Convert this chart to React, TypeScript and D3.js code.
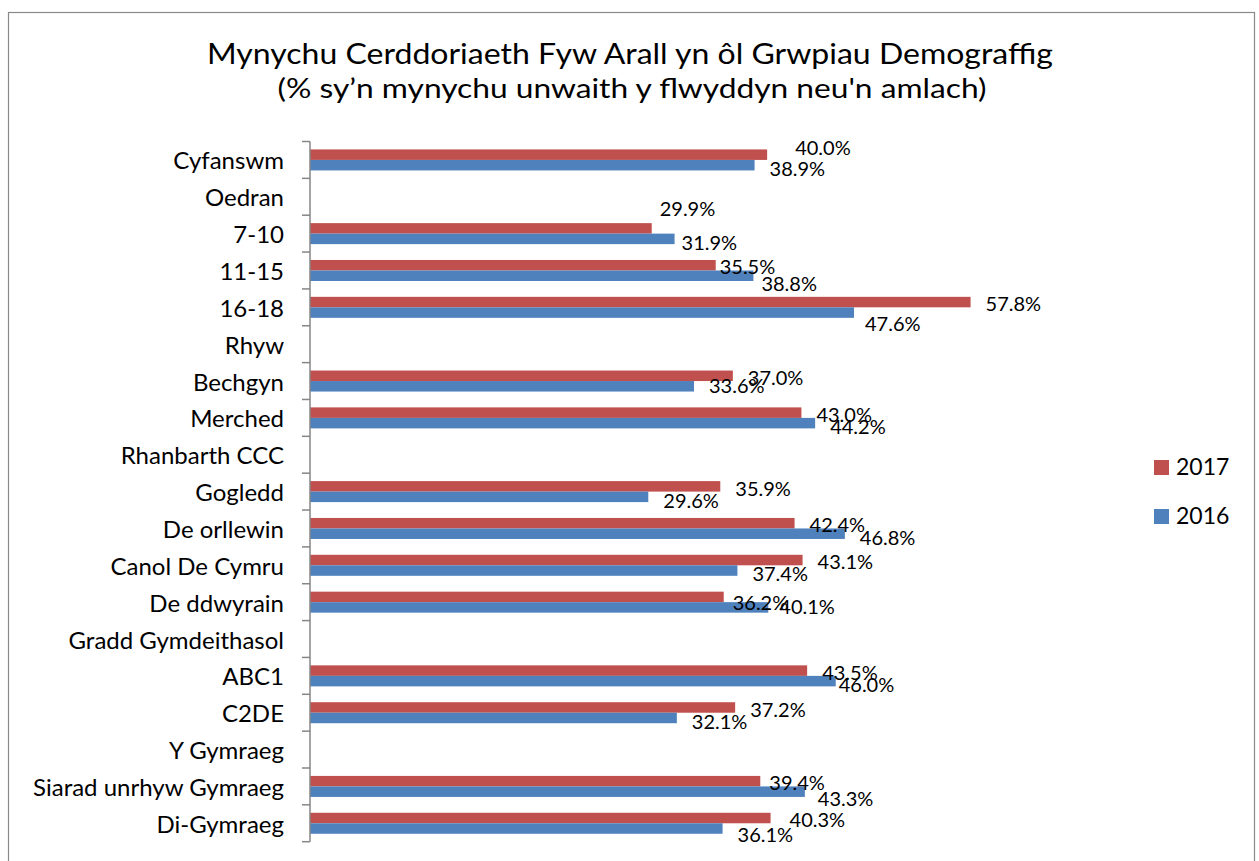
import React from "react";
import * as d3 from "d3";

const categories = [
  "Cyfanswm", "Oedran", "7-10", "11-15", "16-18", "Rhyw", "Bechgyn", "Merched",
  "Rhanbarth CCC", "Gogledd", "De orllewin", "Canol De Cymru", "De ddwyrain",
  "Gradd Gymdeithasol", "ABC1", "C2DE", "Y Gymraeg", "Siarad unrhyw Gymraeg", "Di-Gymraeg",
];
const values2017: (number | null)[] = [
  40.0, null, 29.9, 35.5, 57.8, null, 37.0, 43.0, null, 35.9, 42.4, 43.1, 36.2, null, 43.5, 37.2, null, 39.4, 40.3,
];
const values2016: (number | null)[] = [
  38.9, null, 31.9, 38.8, 47.6, null, 33.6, 44.2, null, 29.6, 46.8, 37.4, 40.1, null, 46.0, 32.1, null, 43.3, 36.1,
];
const seriesNames = ["2017", "2016"];
const title = "Mynychu Cerddoriaeth Fyw Arall yn ôl Grwpiau Demograffig";
const subtitle = "(% sy\u2019n mynychu unwaith y flwyddyn neu'n amlach)";

// label layout nudges (dx, dy) relative to default placement
const nudge2017: Record<string, [number, number]> = {
  "Cyfanswm": [13, -9],
  "7-10": [-7, -22],
  "11-15": [-11, 0],
  "De ddwyrain": [-6, 4],
  "Siarad unrhyw Gymraeg": [-6, 0],
  "Di-Gymraeg": [4, 0],
};
const nudge2016: Record<string, [number, number]> = {
  "7-10": [-8, 0],
  "11-15": [-7, 5],
  "16-18": [-4, 8],
  "Bechgyn": [0, -4],
  "De orllewin": [0, 1],
  "De ddwyrain": [-4, -4],
  "ABC1": [-12, 0],
  "Siarad unrhyw Gymraeg": [-2, 4],
  "Di-Gymraeg": [0, 3],
};

const W = 1259;
const H = 861;
const RED = "#C0504D";
const BLUE = "#4F81BD";
const FONT = "Lato, 'Open Sans', sans-serif";

export default function App() {
  const x = d3.scaleLinear().domain([0, 70]).range([310, 1110]);
  const y = d3.scaleBand<string>().domain(categories).range([141.5, 841.7]);
  const bw = y.bandwidth();
  const barH = 10.5;
  const fmt = (v: number) => v.toFixed(1) + "%";

  return (
    <svg width={W} height={H} style={{ position: "absolute", left: 0, top: 0, background: "#fff" }}>
      <rect x={8.5} y={12.5} width={1246} height={870} fill="#fff" stroke="#898989" strokeWidth={1.2} />
      <text x={630} y={64} textAnchor="middle" fontFamily={FONT} fontSize={28} fill="#000"
        textLength={846} lengthAdjust="spacingAndGlyphs">{title}</text>
      <text x={632} y={98} textAnchor="middle" fontFamily={FONT} fontSize={26} fill="#000"
        textLength={709} lengthAdjust="spacingAndGlyphs">{subtitle}</text>

      {/* category labels */}
      {categories.map((c) => (
        <text key={c} x={284} y={(y(c) as number) + bw / 2} textAnchor="end" dominantBaseline="central"
          fontFamily={FONT} fontSize={24} fill="#000">{c}</text>
      ))}

      {/* bars */}
      {categories.map((c, i) => {
        const cy = (y(c) as number) + bw / 2;
        const v17 = values2017[i];
        const v16 = values2016[i];
        return (
          <g key={c}>
            {v17 != null && (
              <rect x={x(0)} y={cy - barH} width={x(v17) - x(0)} height={barH} fill={RED} />
            )}
            {v16 != null && (
              <rect x={x(0)} y={cy} width={x(v16) - x(0)} height={barH} fill={BLUE} />
            )}
          </g>
        );
      })}

      {/* axis */}
      <line x1={310} x2={310} y1={y.range()[0]} y2={y.range()[1]} stroke="#868686" strokeWidth={1.5} />
      {categories.concat(["__end"]).map((c, i) => {
        const ty = y.range()[0] + i * y.step();
        return <line key={"t" + i} x1={302} x2={310} y1={ty} y2={ty} stroke="#868686" strokeWidth={1.5} />;
      })}

      {/* data labels */}
      {categories.map((c, i) => {
        const cy = (y(c) as number) + bw / 2;
        const v17 = values2017[i];
        const v16 = values2016[i];
        const n17 = nudge2017[c] || [0, 0];
        const n16 = nudge2016[c] || [0, 0];
        return (
          <g key={"l" + c}>
            {v17 != null && (
              <text x={x(v17) + 15 + n17[0]} y={cy - 4 + n17[1]} dominantBaseline="central"
                fontFamily={FONT} fontSize={20} fill="#000">{fmt(v17)}</text>
            )}
            {v16 != null && (
              <text x={x(v16) + 15 + n16[0]} y={cy + 8 + n16[1]} dominantBaseline="central"
                fontFamily={FONT} fontSize={20} fill="#000">{fmt(v16)}</text>
            )}
          </g>
        );
      })}

      {/* legend */}
      {seriesNames.map((s, i) => (
        <g key={s}>
          <rect x={1154} y={460 + i * 49} width={15} height={15} fill={i === 0 ? RED : BLUE} />
          <text x={1176} y={475 + i * 49} fontFamily={FONT} fontSize={23} fill="#000">{s}</text>
        </g>
      ))}
    </svg>
  );
}
